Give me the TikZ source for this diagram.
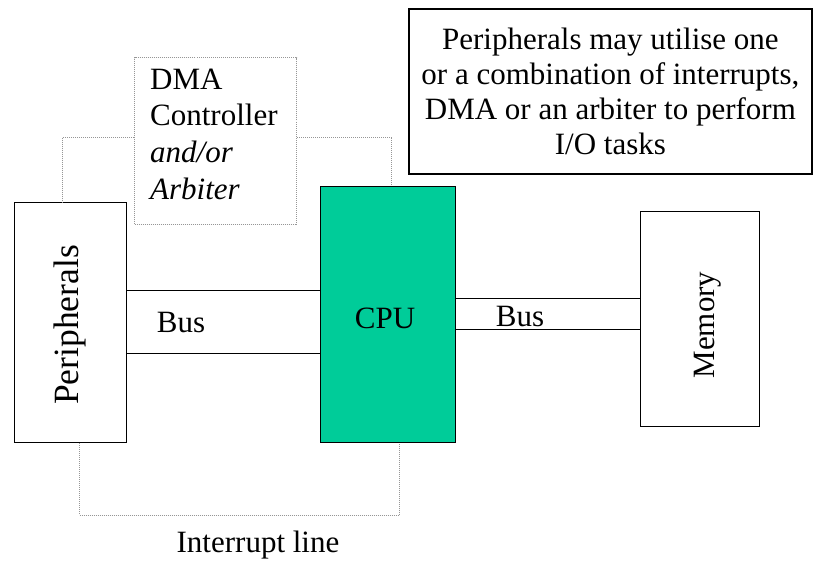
\documentclass[tikz,border=0pt]{standalone}
\usepackage{fontspec}
\setmainfont{Liberation Serif}
\definecolor{cpugreen}{RGB}{0,204,153}
\definecolor{linkgray}{RGB}{150,150,150}
\begin{document}
\begin{tikzpicture}[x=1pt,y=-1pt,
  box/.style={draw=black, line width=1.3pt, inner sep=0pt, anchor=north west},
  dotbox/.style={draw=linkgray, line width=1pt, dash pattern=on 1pt off 1pt, inner sep=0pt, anchor=north west},
  link/.style={draw=linkgray, line width=1pt, dash pattern=on 1pt off 1pt},
  lbl/.style={font=\fontsize{31}{35}\selectfont, inner sep=0pt}]
\useasboundingbox (0,0) rectangle (815,562);

% main blocks
\node[box, minimum width=112pt, minimum height=240pt] (per) at (14,202) {};
\node[box, minimum width=194pt, minimum height=63pt] (busL) at (126,290) {};
\node[box, fill=cpugreen, minimum width=135pt, minimum height=256pt] (cpu) at (320,186) {};
\node[box, minimum width=185pt, minimum height=31pt] (busR) at (455,298) {};
\node[box, minimum width=119pt, minimum height=215pt] (mem) at (640,211) {};
\node[dotbox, fill=white, minimum width=162pt, minimum height=167pt] (dma) at (134,57) {};
\node[box, line width=1.8pt, minimum width=403pt, minimum height=165pt] (note) at (408,8) {};

% dotted control and interrupt lines
\draw[link] (dma.west |- 0,137) -| ([xshift=-8pt]per.north);
\draw[link] (dma.east |- 0,137) -| ([xshift=3.5pt]cpu.north);
\draw[link] ([xshift=9pt]per.south) -- ++(0,72) -| ([xshift=11.5pt]cpu.south);

% labels
\node[lbl, anchor=base west] (dmatxt1) at (150,89) {DMA};
\node[lbl, anchor=base west] (dmatxt2) at (150,125) {Controller};
\node[lbl, anchor=base west] (dmatxt3) at (150,162) {\itshape and/or};
\node[lbl, anchor=base west] (dmatxt4) at (150,199) {\itshape Arbiter};
\node[lbl] (busLtxt) at (181,322) {Bus};
\node[lbl] (cputxt) at (385,318) {CPU};
\node[lbl] (busRtxt) at (520,316) {Bus};
\node[lbl, font=\fontsize{35.5}{40}\selectfont, rotate=90] (pertxt) at (70,325) {Peripherals};
\node[lbl, rotate=90] (memtxt) at (708,325) {Memory};
\node[lbl] (irq) at (258,545) {Interrupt line};
\node[lbl, align=center] (notetxt) at (note.center) {Peripherals may utilise one\\or a combination of interrupts,\\DMA or an arbiter to perform\\I/O tasks};
\end{tikzpicture}
\end{document}
